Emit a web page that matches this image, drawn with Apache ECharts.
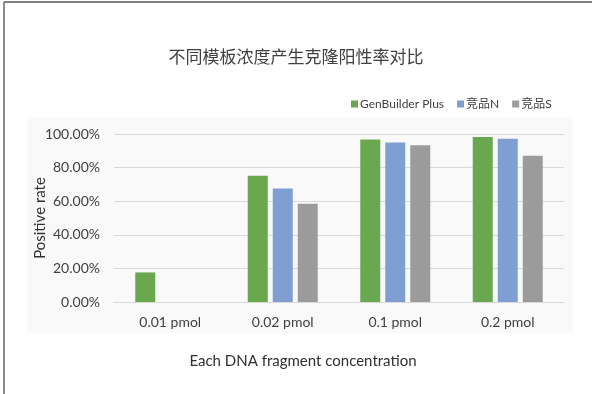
<!DOCTYPE html>
<html><head><meta charset="utf-8">
<script src="https://cdn.jsdelivr.net/npm/echarts@6/dist/echarts.min.js"></script>
<style>html,body{margin:0;padding:0;background:#fff}#c{width:592px;height:394px}</style>
</head><body><div id="c"></div>
<script>
const categories = ['0.01 pmol', '0.02 pmol', '0.1 pmol', '0.2 pmol'];
const seriesNames = ['GenBuilder Plus', '竞品N', '竞品S'];
const genBuilder = [0.176, 0.752, 0.968, 0.982];
const productN = [null, 0.675, 0.950, 0.972];
const productS = [null, 0.585, 0.933, 0.871];
const yTicks = [0, 0.2, 0.4, 0.6, 0.8, 1.0];
const colors = ['#6aa84f', '#7f9fd2', '#9b9b9b'];

const font = 'Lato, "Noto Sans CJK SC", sans-serif';
const chart = echarts.init(document.getElementById('c'));
const values = [genBuilder, productN, productS];
chart.setOption({
  backgroundColor: '#ffffff',
  animation: false,
  textStyle: { fontFamily: font },
  title: {
    text: '不同模板浓度产生克隆阳性率对比',
    left: 'center', top: 43,
    textStyle: { fontSize: 17, fontWeight: 'normal', color: '#404040', fontFamily: '"Noto Sans CJK SC", sans-serif' }
  },
  graphic: [
    { type: 'rect', z: -10, shape: { x: 27, y: 117, width: 546, height: 216 }, style: { fill: '#f9f9f9' } },
    { type: 'line', shape: { x1: 4, y1: 2, x2: 592, y2: 2 }, style: { stroke: '#555', lineWidth: 1.5 } },
    { type: 'line', shape: { x1: 4, y1: 2, x2: 4, y2: 394 }, style: { stroke: '#666', lineWidth: 1.5 } }
  ],
  legend: {
    data: seriesNames,
    left: 346, top: 93,
    icon: 'rect', itemWidth: 7, itemHeight: 7, itemGap: 13,
    textStyle: { fontSize: 12, color: '#404040', fontFamily: font, padding: [0, 0, 0, -3] }
  },
  grid: { left: 114, right: 28, top: 134, bottom: 92 },
  xAxis: {
    type: 'category', data: categories,
    axisTick: { show: false },
    axisLine: { lineStyle: { color: '#d9d9d9' } },
    axisLabel: { fontSize: 14, color: '#404040', margin: 13 },
    name: 'Each DNA fragment concentration',
    nameLocation: 'middle', nameGap: 52,
    nameTextStyle: { fontSize: 15, color: '#303030', padding: [0, 72, 0, 0] }
  },
  yAxis: {
    type: 'value', min: 0, max: 1, interval: 0.2,
    axisLine: { show: false }, axisTick: { show: false },
    splitLine: { lineStyle: { color: '#d9d9d9' } },
    axisLabel: { fontSize: 14, color: '#404040', margin: 14,
      formatter: v => (v * 100).toFixed(2) + '%' },
    name: 'Positive rate', nameLocation: 'middle', nameGap: 66, nameRotate: 90,
    nameMoveOverlap: false,
    nameTextStyle: { fontSize: 15, color: '#303030' }
  },
  series: seriesNames.map((n, i) => ({
    name: n, type: 'bar', data: values[i],
    barWidth: 20, barGap: '25%',
    itemStyle: { color: colors[i] }
  }))
});
</script></body></html>
